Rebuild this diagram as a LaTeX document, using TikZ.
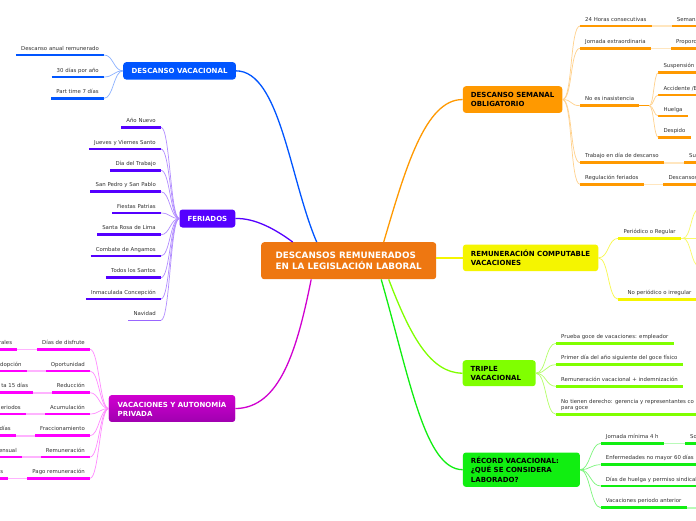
\documentclass[tikz,border=0pt]{standalone}
\usepackage{fontspec}
\setmainfont{DejaVu Sans}
\usetikzlibrary{calc}

\definecolor{cRoot}{HTML}{EE7711}
\definecolor{cBlue}{HTML}{0055FF}
\definecolor{cPurple}{HTML}{5500FF}
\definecolor{cMagenta}{HTML}{D000D0}
\definecolor{cMagentaD}{HTML}{A000B0}
\definecolor{cPink}{HTML}{FF00FF}
\definecolor{cOrange}{HTML}{FF9900}
\definecolor{cYellow}{HTML}{F5F500}
\definecolor{cLime}{HTML}{80FF00}
\definecolor{cGreen}{HTML}{11EE11}
\definecolor{cText}{HTML}{333333}

\newcommand{\leaffont}{\fontsize{5.4}{6.6}\selectfont}
\newcommand{\branchfont}{\fontsize{7}{9.4}\selectfont\bfseries}
\newcommand{\rootfont}{\fontsize{8.8}{11}\selectfont\bfseries}

\tikzset{
  root/.style={fill=cRoot, text=white, font=\rootfont, rounded corners=3pt,
    align=left, inner xsep=11pt, anchor=north west,
    minimum width=175pt, minimum height=37pt},
  branch/.style={fill=#1, rounded corners=3pt, font=\branchfont, align=left,
    inner xsep=8pt, inner ysep=2pt, anchor=north west},
  leafbase/.style={inner xsep=5pt, inner ysep=3.2pt, font=\leaffont, text=cText},
  leaf/.style={leafbase, text height=4pt, text depth=1.6pt,
    append after command={(\tikzlastnode.south west) edge[draw=#1, line width=2.8pt] (\tikzlastnode.south east)}},
  leafthin/.style={leafbase, text height=4pt, text depth=1.6pt,
    append after command={(\tikzlastnode.south west) edge[draw=#1, line width=0.8pt] (\tikzlastnode.south east)}},
  leaftwo/.style={leafbase, align=left,
    append after command={(\tikzlastnode.south west) edge[draw=#1, line width=2.8pt] (\tikzlastnode.south east)}},
  lleaf/.style={leaf=#1, anchor=south east},
  rleaf/.style={leaf=#1, anchor=south west},
  trunk/.style={draw=#1, line width=1.3pt},
  twig/.style={draw=#1, line width=0.7pt},
  stub/.style={draw=#1, line width=1.6pt},
}

\begin{document}
\begin{tikzpicture}[x=1pt,y=-1pt]
\fill[white] (0,0) rectangle (696,520);
\useasboundingbox (0,0) rectangle (696,520);

% central topic
\node[root] (c) at (261,242) {DESCANSOS REMUNERADOS\\EN LA LEGISLACIÓN LABORAL};

% main topics
\node[branch=cBlue, text=white, minimum width=112.7pt, minimum height=17.3pt] (b1) at (123,62) {DESCANSO VACACIONAL};
\node[branch=cPurple, text=white, minimum width=55.7pt, minimum height=18pt] (b2) at (179.3,209.3) {FERIADOS};
\node[branch=cMagenta, top color=cMagenta, bottom color=cMagentaD, text=white, minimum width=126.3pt, minimum height=26.7pt] (b3) at (108.7,395) {VACACIONES Y AUTONOMÍA\\PRIVADA};
\node[branch=cOrange, minimum width=96.6pt, minimum height=26.7pt] (b4) at (462.7,86) {DESCANSO SEMANAL\\OBLIGATORIO};
\node[branch=cYellow, minimum width=134.6pt, minimum height=26.7pt] (b5) at (462.7,244.3) {REMUNERACIÓN COMPUTABLE\\VACACIONES};
\node[branch=cLime, text width=57pt, minimum height=26pt] (b6) at (462.5,360) {TRIPLE\\VACACIONAL};
\node[branch=cGreen, text width=101pt, minimum height=34.4pt] (b7) at (462.7,452.3) {RÉCORD VACACIONAL:\\¿QUÉ SE CONSIDERA\\LABORADO?};

% descanso vacacional
\node[lleaf=cBlue] (l11) at (104,55) {Descanso anual remunerado};
\node[lleaf=cBlue] (l12) at (104,77) {30 días por año};
\node[lleaf=cBlue] (l13) at (104,98.3) {Part time 7 días};

% feriados
\node[lleaf=cPurple] (f1) at (161,127.3) {Año Nuevo};
\node[lleaf=cPurple] (f2) at (161,149) {Jueves y Viernes Santo};
\node[lleaf=cPurple] (f3) at (161,170.3) {Día del Trabajo};
\node[lleaf=cPurple] (f4) at (161,191.7) {San Pedro y San Pablo};
\node[lleaf=cPurple] (f5) at (161,213) {Fiestas Patrias};
\node[lleaf=cPurple] (f6) at (161,234.7) {Santa Rosa de Lima};
\node[lleaf=cPurple] (f7) at (161,256) {Combate de Angamos};
\node[lleaf=cPurple] (f8) at (161,277.7) {Todos los Santos};
\node[lleaf=cPurple] (f9) at (161,299) {Inmaculada Concepción};
\node[leafthin=cPurple!60, anchor=south east] (f10) at (161,320.3) {Navidad};

% vacaciones y autonomia privada
\node[lleaf=cPink] (v1) at (90,349.3) {Días de disfrute};
\node[lleaf=cPink] (v2) at (90,371) {Oportunidad};
\node[lleaf=cPink] (v3) at (90,392.7) {Reducción};
\node[lleaf=cPink] (v4) at (90,414) {Acumulación};
\node[lleaf=cPink] (v5) at (90,435.7) {Fraccionamiento};
\node[lleaf=cPink] (v6) at (90,457) {Remuneración};
\node[lleaf=cPink] (v7) at (90,478.3) {Pago remuneración};
\node[lleaf=cPink] (w1) at (17.3,349.3) {rales};
\node[lleaf=cPink] (w2) at (26.7,371) {dopción};
\node[lleaf=cPink] (w3) at (33.3,392.7) {ta 15 días};
\node[lleaf=cPink] (w4) at (26,414) {eriodos};
\node[lleaf=cPink] (w5) at (16,435.7) {días};
\node[lleaf=cPink] (w6) at (22,457) {ensual};
\node[lleaf=cPink] (w7) at (8.3,478.3) {s};

% descanso semanal
\node[rleaf=cOrange] (s1) at (580,26) {24 Horas consecutivas};
\node[rleaf=cOrange] (s2) at (580,48.3) {Jornada extraordinaria};
\node[rleaf=cOrange] (s3) at (580,105.7) {No es inasistencia};
\node[rleaf=cOrange] (s4) at (580,162.7) {Trabajo en día de descanso};
\node[rleaf=cOrange] (s5) at (580,184.3) {Regulación feriados};
\node[rleaf=cOrange] (s11) at (671.7,26) {Semana};
\node[rleaf=cOrange] (s21) at (671,48.3) {Proporc};
\node[rleaf=cOrange] (s31) at (658.3,72.7) {Suspensión};
\node[rleaf=cOrange] (s32) at (658.3,95) {Accidente /E};
\node[rleaf=cOrange] (s33) at (658.3,116) {Huelga};
\node[rleaf=cOrange] (s34) at (658.3,137.3) {Despido};
\node[rleaf=cOrange] (s41) at (684,162.7) {Su};
\node[rleaf=cOrange] (s51) at (663.3,184.3) {Descansos};
\coordinate (s3j) at (649.3,105.7);

% remuneracion computable
\node[rleaf=cYellow] (r1) at (618.3,238.3) {Periódico o Regular};
\node[rleaf=cYellow, minimum width=82pt] (r2) at (618.3,299.3) {No periódico o irregular};
\coordinate (r1j) at (683,238.3);
\coordinate (r11) at (699,209);
\coordinate (r12) at (710,238.3);
\coordinate (r13) at (699,266);

% triple vacacional
\node[rleaf=cLime] (t1) at (556,343.3) {Prueba goce de vacaciones: empleador};
\node[rleaf=cLime] (t2) at (556,364.7) {Primer día del año siguiente del goce físico};
\node[rleaf=cLime] (t3) at (556,386.3) {Remuneración vacacional + indemnización};
\node[leaftwo=cLime, anchor=south west] (t4) at (556,414.3) {No tienen derecho: gerencia y representantes co\\para goce};

% record vacacional
\node[rleaf=cGreen] (g1) at (600.7,443.3) {Jornada mínima 4 h};
\node[rleaf=cGreen] (g2) at (600.7,464.7) {Enfermedades no mayor 60 días};
\node[rleaf=cGreen] (g3) at (600.7,486) {Días de huelga y permiso sindical};
\node[rleaf=cGreen] (g4) at (600.7,507.7) {Vacaciones periodo anterior};
\node[rleaf=cGreen] (g11) at (685,443.3) {So};
\coordinate (g41) at (720,507.7);

% main connectors
\draw[trunk=cBlue] ($(c.north)+(-32,0)$) .. controls (290,180) and (280,71) .. (b1.east);
\draw[trunk=cPurple] ($(c.north)+(-56,0)$) .. controls (275,229) and (255,218) .. (b2.east);
\draw[trunk=cMagenta] ($(c.south)+(-37.5,0)$) .. controls (297,350) and (280,408) .. (b3.east);
\draw[trunk=cOrange] ($(c.north)+(35,0)$) .. controls (405,170) and (425,99) .. (b4.west);
\draw[trunk=cYellow] (c.east |- b5.west) -- (b5.west);
\draw[trunk=cLime] ($(c.south)+(40,0)$) .. controls (410,335) and (430,373) .. (b6.west);
\draw[trunk=cGreen] ($(c.south)+(32.5,0)$) .. controls (410,380) and (425,469.5) .. (b7.west);

% leaf connectors
\foreach \n in {l11,l12,l13}
  \draw[twig=cBlue!45] (b1.west) .. controls +(-9.5,0) and +(9.5,0) .. (\n.south east);
\foreach \n in {f1,f2,f3,f4,f5,f6,f7,f8,f9,f10}
  \draw[twig=cPurple!45] (b2.west) .. controls +(-9,0) and +(9,0) .. (\n.south east);
\foreach \n in {v1,v2,v3,v4,v5,v6,v7}
  \draw[twig=cPink!45] (b3.west) .. controls +(-9,0) and +(9,0) .. (\n.south east);
\foreach \a/\b in {w1/v1,w2/v2,w3/v3,w4/v4,w5/v5,w6/v6,w7/v7}
  \draw[stub=cPink!30] (\a.south east) -- (\b.south west);
\foreach \n in {s1,s2,s3,s4,s5}
  \draw[twig=cOrange!45] (b4.east) .. controls +(10,0) and +(-10,0) .. (\n.south west);
\draw[stub=cOrange!25] (s1.south east) -- (s11.south west);
\draw[stub=cOrange!25] (s2.south east) -- (s21.south west);
\draw[stub=cOrange!25] (s4.south east) -- (s41.south west);
\draw[stub=cOrange!25] (s5.south east) -- (s51.south west);
\draw[draw=cOrange, line width=1pt] (s3.south east) -- (s3j);
\foreach \n in {s31,s32,s33,s34}
  \draw[twig=cOrange!45] (s3j) .. controls +(4.5,0) and +(-4.5,0) .. (\n.south west);
\foreach \n in {r1,r2}
  \draw[twig=cYellow!70] (b5.east) .. controls +(10.5,0) and +(-10.5,0) .. (\n.south west);
\draw[twig=cYellow!60] (r1.south east) -- (r12);
\foreach \n in {r11,r13}
  \draw[twig=cYellow!60] (r1j) .. controls +(8,0) and +(-8,0) .. (\n);
\foreach \n in {t1,t2,t3,t4}
  \draw[twig=cLime!60] (b6.east) .. controls +(10.5,0) and +(-10.5,0) .. (\n.south west);
\foreach \n in {g1,g2,g3,g4}
  \draw[twig=cGreen!55] (b7.east) .. controls +(10,0) and +(-10,0) .. (\n.south west);
\draw[stub=cGreen!30] (g1.south east) -- (g11.south west);
\draw[stub=cGreen!30] (g4.south east) -- (g41);
\end{tikzpicture}
\end{document}
